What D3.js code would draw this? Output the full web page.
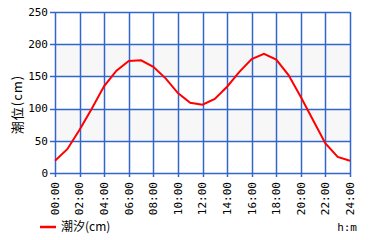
<!DOCTYPE html>
<html>
<head>
<meta charset="utf-8">
<script src="https://cdn.jsdelivr.net/npm/d3@7"></script>
<style>
  body { margin: 0; background: #fff; }
  text { font-family: "DejaVu Sans Mono", monospace; font-size: 11px; fill: #000; }
</style>
</head>
<body>
<div id="chart"></div>
<script>
// hourly tide level (cm)
var hours = d3.range(0, 25);
var tide = [19, 37, 67, 100, 135, 159, 174, 175, 165, 147, 124, 109, 106,
            115, 134, 157, 177, 185, 176, 152, 118, 82, 46, 25, 19];
var yTicks = [0, 50, 100, 150, 200, 250];
var xTicks = [0, 2, 4, 6, 8, 10, 12, 14, 16, 18, 20, 22, 24];
var bands = [[50, 100], [150, 200]];

var margin = { top: 12, right: 30, bottom: 67, left: 55 };
var width = 380 - margin.left - margin.right,
    height = 240 - margin.top - margin.bottom;

var svg = d3.select("#chart").append("svg")
    .attr("width", 380)
    .attr("height", 240)
    .append("g")
    .attr("transform", "translate(" + margin.left + "," + margin.top + ")");

var x = d3.scaleLinear().domain([0, 24]).range([0, width]);
var y = d3.scaleLinear().domain([0, 250]).range([height, 0]);

var gridColor = "#3366cc";

// shaded bands
svg.selectAll(".band").data(bands).enter().append("rect")
    .attr("x", 0)
    .attr("width", width)
    .attr("y", function(d) { return y(d[1]); })
    .attr("height", function(d) { return y(d[0]) - y(d[1]); })
    .attr("fill", "#f7f7f7");

// grid
svg.selectAll(".hgrid").data(yTicks).enter().append("line")
    .attr("x1", -5).attr("x2", width)
    .attr("y1", function(d) { return Math.round(y(d)) + 0.5; })
    .attr("y2", function(d) { return Math.round(y(d)) + 0.5; })
    .attr("stroke", gridColor).attr("stroke-width", 1.5);

svg.selectAll(".vgrid").data(xTicks).enter().append("line")
    .attr("y1", 0).attr("y2", height + 4)
    .attr("x1", function(d) { return Math.round(x(d)) + 0.5; })
    .attr("x2", function(d) { return Math.round(x(d)) + 0.5; })
    .attr("stroke", gridColor).attr("stroke-width", 1.5);

// y labels
svg.selectAll(".ylab").data(yTicks).enter().append("text")
    .attr("x", -7)
    .attr("y", function(d) { return y(d); })
    .attr("dy", "0.35em")
    .attr("text-anchor", "end")
    .text(function(d) { return d; });

// x labels (rotated)
svg.selectAll(".xlab").data(xTicks).enter().append("text")
    .attr("transform", function(d) {
        return "translate(" + x(d) + "," + (height + 9) + ") rotate(-90)";
    })
    .attr("dy", "0.35em")
    .attr("text-anchor", "end")
    .text(function(d) { return d3.format("02d")(d) + ":00"; });

// y axis title
svg.append("text")
    .attr("transform", "translate(-38," + (height / 2 + 12) + ") rotate(-90)")
    .attr("text-anchor", "middle")
    .attr("dy", "0.35em")
    .style("font-family", "'Noto Sans CJK JP', sans-serif")
    .style("font-size", "13px")
    .style("letter-spacing", "1px")
    .text("潮位(cm)");

// tide line
var line = d3.line()
    .x(function(d, i) { return x(hours[i]); })
    .y(function(d) { return y(d); });

svg.append("path")
    .datum(tide)
    .attr("d", line)
    .attr("fill", "none")
    .attr("stroke", "#ff0000")
    .attr("stroke-width", 2);

// legend
var legend = svg.append("g")
    .attr("transform", "translate(-15," + (height + 54) + ")");
legend.append("line")
    .attr("x1", 0).attr("x2", 16)
    .attr("stroke", "#ff0000").attr("stroke-width", 2.5);
legend.append("text")
    .attr("x", 21)
    .attr("dy", "0.35em")
    .style("font-family", "'Noto Sans CJK JP', sans-serif")
    .style("font-size", "12px")
    .text("潮汐(cm)");

svg.append("text")
    .attr("x", width + 7)
    .attr("y", height + 54)
    .attr("dy", "0.35em")
    .attr("text-anchor", "end")
    .text("h:m");
</script>
</body>
</html>
